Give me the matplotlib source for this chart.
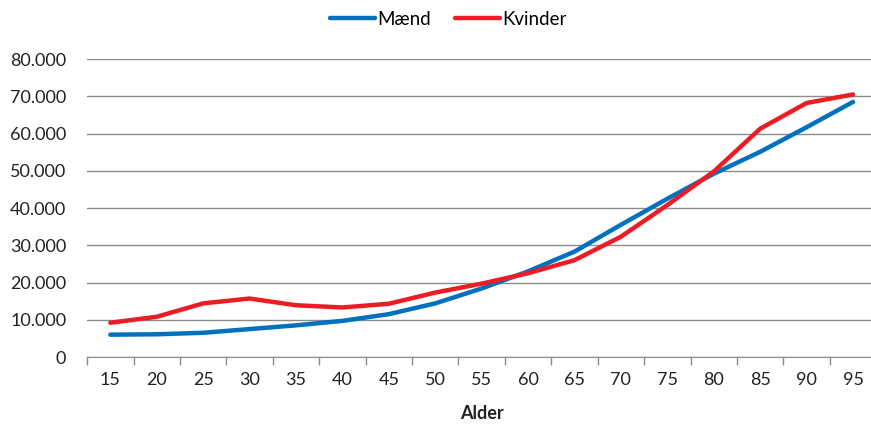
import numpy as np
import matplotlib.pyplot as plt

alder = [15, 20, 25, 30, 35, 40, 45, 50, 55, 60, 65, 70, 75, 80, 85, 90, 95]
maend = [6000, 6100, 6500, 7500, 8500, 9700, 11500, 14400, 18400, 23000, 28300,
         35500, 42500, 49200, 55100, 61700, 68500]
kvinder = [9200, 10800, 14400, 15700, 13900, 13300, 14300, 17300, 19700, 22500, 26000,
           32300, 40800, 49800, 61300, 68200, 70500]
yticks = [0, 10000, 20000, 30000, 40000, 50000, 60000, 70000, 80000]

plt.rcParams['font.family'] = ['Lato', 'DejaVu Sans']

fig = plt.figure(figsize=(8.71, 4.25), dpi=100)
ax = fig.add_axes([0.1, 0.16, 0.906, 0.701])

x = np.arange(len(alder))
l1, = ax.plot(x, maend, color='#0070C0', lw=3.2, label='Mænd', solid_capstyle='round')
l2, = ax.plot(x, kvinder, color='#ED1C24', lw=3.2, label='Kvinder', solid_capstyle='round')

ax.set_xlim(-0.5, len(alder) - 0.5)
ax.set_ylim(0, 80000)
ax.set_yticks(yticks)
ax.set_yticklabels([f'{v:,}'.replace(',', '.') for v in yticks], fontsize=13, color='#222222')
ax.set_xticks(x)
ax.set_xticklabels([str(a) for a in alder], fontsize=13, color='#222222')
ax.set_xticks(np.arange(-0.5, len(alder)), minor=True)
ax.tick_params(axis='x', which='major', length=0, pad=11)
ax.tick_params(axis='x', which='minor', length=6, color='#8c8c8c', width=1)
ax.tick_params(axis='y', length=0, pad=15)
ax.grid(axis='y', color='#8c8c8c', lw=1)
ax.set_axisbelow(True)
for s in ['top', 'right', 'left']:
    ax.spines[s].set_visible(False)
ax.spines['bottom'].set_color('#8c8c8c')
ax.set_xlabel('Alder', fontsize=13, fontweight='bold', color='#222222', labelpad=12)

fig.legend(handles=[l1, l2], loc='upper center', bbox_to_anchor=(0.515, 1.015), ncol=2,
           frameon=False, fontsize=13.5, handlelength=2.4, handletextpad=0.1, columnspacing=1.3)

fig.savefig('out.png', dpi=100)
